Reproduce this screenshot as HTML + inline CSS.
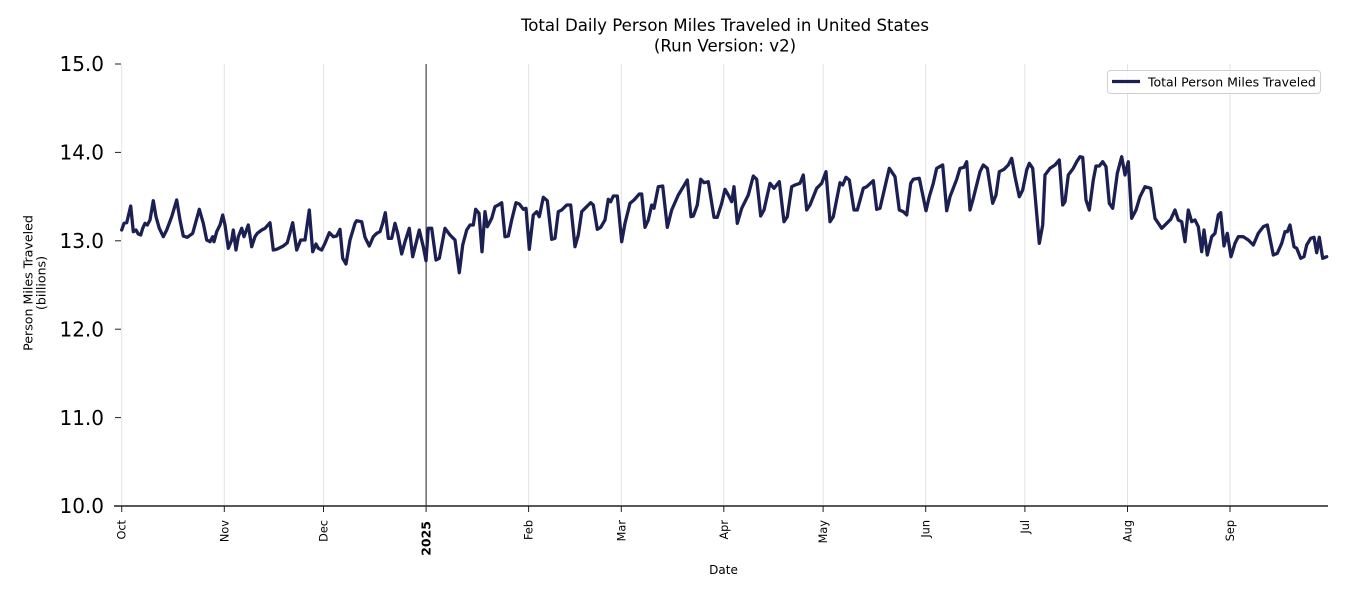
<!DOCTYPE html>
<html>
<head>
<meta charset="utf-8">
<style>
html,body{margin:0;padding:0;background:#fff;}
svg{display:block;}
text{font-family:"DejaVu Sans","Liberation Sans",sans-serif;fill:#000;}
</style>
</head>
<body>
<svg width="1350" height="600" viewBox="0 0 1350 600" xmlns="http://www.w3.org/2000/svg">
<rect width="1350" height="600" fill="#fff"/>
<!-- title -->
<text x="725" y="31" font-size="16.6" text-anchor="middle">Total Daily Person Miles Traveled in United States</text>
<text x="725" y="51.5" font-size="16.6" text-anchor="middle">(Run Version: v2)</text>

<!-- vertical gridlines -->
<g stroke="#e3e3e3" stroke-width="1">
<line x1="121.7" y1="64" x2="121.7" y2="506"/>
<line x1="224.3" y1="64" x2="224.3" y2="506"/>
<line x1="323.5" y1="64" x2="323.5" y2="506"/>
<line x1="528.6" y1="64" x2="528.6" y2="506"/>
<line x1="621.3" y1="64" x2="621.3" y2="506"/>
<line x1="723.8" y1="64" x2="723.8" y2="506"/>
<line x1="823.1" y1="64" x2="823.1" y2="506"/>
<line x1="925.7" y1="64" x2="925.7" y2="506"/>
<line x1="1024.9" y1="64" x2="1024.9" y2="506"/>
<line x1="1127.5" y1="64" x2="1127.5" y2="506"/>
<line x1="1230" y1="64" x2="1230" y2="506"/>
</g>
<!-- year line -->
<line x1="426.1" y1="64" x2="426.1" y2="506" stroke="#222" stroke-width="1"/>

<!-- data -->
<polyline fill="none" stroke="#1c1f52" stroke-width="3.3" stroke-linejoin="round" stroke-linecap="round" points="121.7,230 124,223.3 126.7,222.7 130.7,206 133.3,231.7 136,230 138.3,234 140.7,235 142.7,228.3 145,223.3 147.3,225 150,220 153.3,200.7 156,216.7 159.3,228.3 163.3,236.7 166.7,230 171.7,216.7 176.7,200 180,220 183.3,236 187.3,237.3 192.7,233.3 199.3,209.3 203.3,223.3 206.7,240 210,241.7 212.7,236.7 214,241.7 216.7,231.7 220,225 222.7,215 225,225 228.3,248.3 231.7,240 233.3,230 236,250 238.3,236.7 241.7,228.3 244,236.7 248.3,225 251.7,246.7 255,236.7 257.3,233.3 261.7,230 265,228.3 270,222.7 273.3,250 276.7,249.3 283.3,246 287.3,242.7 292.7,222.7 296.7,250 300.7,240 305,240 309.3,210 312.7,251.7 316,244 318.3,248.3 321.7,250 325,243.3 329.3,232.7 333.3,236.7 336.7,236 340,229.3 342.7,258.3 346,264 350,240 355,223.3 356.7,220.7 361.7,221.7 365,237.3 369.3,246 373.3,236.7 376.7,233.3 380,231.7 382.7,223.3 385.3,212.7 388.3,238.3 391.7,238.3 395,223.3 397.7,233.3 401.7,254 405,241.7 409.3,228.3 412.7,256.7 416,243.3 419.3,230 423.3,246.7 426,260.7 428.3,228.3 431.7,228.3 436,260 439.3,258.3 445,228.3 450,235 455,240 459.3,272.7 462.7,245 466.7,230 470,225 473.3,225 475.7,209.3 479,213.3 482,251.7 485,211.7 487.3,226.7 491.7,218.3 495,206.7 498.3,205 501.7,202.7 505,236.7 508.3,236 511.7,220 516,202.7 519.3,204 523.3,209.3 526,208.3 529.3,249.3 533.3,215 536.7,211.7 539.3,216.7 543.3,197.3 547.3,200.7 551.7,239.3 555,238.3 558.3,211.7 561.7,210 566.7,205 570.7,205 575,246.7 578.3,235 581.7,211.7 585,208.3 590.7,202.7 593.3,205 597.3,229.3 600.7,227.3 605,220 608.3,199.3 610.7,201.7 613.3,196 617.3,196 621.7,241.7 625,223.3 630,203.3 634,200 639.3,194 641.7,194 645,227.3 648.3,220 651.7,205 654,208.3 658.3,186.7 662.7,186 667.3,227.3 671.7,210 678.3,195 683.3,186.7 687.3,180 691,216.7 693.3,216 697.3,205 700.7,179.3 704,182.7 708.3,181.7 714,217.3 717.3,217.3 721.7,203.3 725,189.3 728.3,195 731.7,201.7 734,186.7 737.3,223.3 741.7,208.3 748.3,195 753.3,176 756.7,179.3 760.7,216 764,210 770,183.3 774,188.3 779.3,181.7 784,221.7 787.3,216.7 791.7,186.7 795,185 800,183.3 803.3,175 806.7,210 810,205 816.7,188.3 821.7,183.3 826,171.7 830,221.7 833.3,216.7 840,182.7 842.7,185 846,177.3 849.3,180 854,210 857.3,210 863.3,188.3 866.7,186.7 873.3,180.7 876.7,209.3 880,208.3 885,186.7 889.3,168.3 895,176.7 899.3,210 903.3,211.7 906.7,215 910.7,183.3 913.3,179.3 919.3,178.3 926,210.7 929.3,196.7 933.3,183.3 936.7,168.3 942.7,165 946.7,210.7 950,196.7 956.7,179.3 960,168.3 964,167.3 966.7,161.7 970,210 973.3,198.3 980,171.7 983.3,165 987.3,168.3 992.7,203.3 996,195 999.3,171.7 1004,169.3 1008.3,165 1011.7,158.3 1015,176.7 1019.3,196.7 1022.7,190 1026.7,170 1029.3,163.3 1032.7,168.3 1039.3,243.3 1042.7,225 1045,175 1050,168.3 1055,165 1059.3,160 1062.7,205 1065,201.7 1068.3,175 1073.3,168.3 1076.7,161.7 1080,156.7 1082.7,157.3 1086,200 1089.3,210 1093.3,180 1096,166 1099.3,166 1102.7,161.7 1106,166.7 1109.3,203.3 1112.7,208.3 1117.3,173.3 1121.7,156.7 1125,175 1128.3,161.7 1131.7,218.3 1136,210 1140,196.7 1145,186.7 1150.7,188.3 1155,218.3 1161.7,228.3 1166.7,223.3 1170.7,219.3 1175,210 1178.3,220 1181.7,221.7 1185,241.7 1188.3,210 1191.7,221.7 1195,220 1198.3,226.7 1201.7,251.7 1204,230 1207.3,255 1211.7,236.7 1215,233.3 1218.3,215 1220.7,212.7 1224,246 1227.3,233.3 1231,256.7 1235,243.3 1238.3,236.7 1243.3,236.7 1248.3,240 1253.3,245 1258.3,233.3 1263.3,226.7 1267.3,225 1273.3,255 1277.3,253.3 1281.7,243.3 1285,231.7 1287.3,231.7 1290,225 1294,246.7 1296.7,248.3 1300.7,258.3 1304,256.7 1306.7,245 1310.7,238.3 1314,237.3 1316.7,252.7 1319.3,237.3 1322.7,258.3 1326.7,256.7"/>

<!-- bottom spine -->
<line x1="114" y1="506" x2="1328" y2="506" stroke="#222" stroke-width="1.5"/>

<!-- y ticks -->
<g stroke="#222" stroke-width="1">
<line x1="115" y1="64" x2="121" y2="64"/>
<line x1="115" y1="152.4" x2="121" y2="152.4"/>
<line x1="115" y1="240.8" x2="121" y2="240.8"/>
<line x1="115" y1="329.2" x2="121" y2="329.2"/>
<line x1="115" y1="417.6" x2="121" y2="417.6"/>
<line x1="115" y1="506" x2="121" y2="506"/>
</g>
<g font-size="20" text-anchor="end">
<text x="104" y="71.2">15.0</text>
<text x="104" y="159.6">14.0</text>
<text x="104" y="248">13.0</text>
<text x="104" y="336.4">12.0</text>
<text x="104" y="424.8">11.0</text>
<text x="104" y="513.2">10.0</text>
</g>

<!-- x ticks -->
<g stroke="#222" stroke-width="1">
<line x1="121.7" y1="506" x2="121.7" y2="512"/>
<line x1="224.3" y1="506" x2="224.3" y2="512"/>
<line x1="323.5" y1="506" x2="323.5" y2="512"/>
<line x1="426.1" y1="506" x2="426.1" y2="512"/>
<line x1="528.6" y1="506" x2="528.6" y2="512"/>
<line x1="621.3" y1="506" x2="621.3" y2="512"/>
<line x1="723.8" y1="506" x2="723.8" y2="512"/>
<line x1="823.1" y1="506" x2="823.1" y2="512"/>
<line x1="925.7" y1="506" x2="925.7" y2="512"/>
<line x1="1024.9" y1="506" x2="1024.9" y2="512"/>
<line x1="1127.5" y1="506" x2="1127.5" y2="512"/>
<line x1="1230" y1="506" x2="1230" y2="512"/>
</g>
<g font-size="11.3" text-anchor="end">
<text transform="translate(125.7,520) rotate(-90)">Oct</text>
<text transform="translate(228.3,520) rotate(-90)">Nov</text>
<text transform="translate(327.5,520) rotate(-90)">Dec</text>
<text transform="translate(430.6,521) rotate(-90)" font-weight="bold" font-size="12.5">2025</text>
<text transform="translate(532.6,520) rotate(-90)">Feb</text>
<text transform="translate(625.3,520) rotate(-90)">Mar</text>
<text transform="translate(727.8,520) rotate(-90)">Apr</text>
<text transform="translate(827.1,520) rotate(-90)">May</text>
<text transform="translate(929.7,520) rotate(-90)">Jun</text>
<text transform="translate(1028.9,520) rotate(-90)">Jul</text>
<text transform="translate(1131.5,520) rotate(-90)">Aug</text>
<text transform="translate(1234,520) rotate(-90)">Sep</text>
</g>

<!-- axis labels -->
<text x="723.5" y="574" font-size="12" text-anchor="middle">Date</text>
<g font-size="12.6" text-anchor="middle">
<text transform="translate(32.5,283) rotate(-90)">Person Miles Traveled</text>
<text transform="translate(45.5,283) rotate(-90)">(billions)</text>
</g>

<!-- legend -->
<rect x="1107.5" y="70.5" width="213" height="23" rx="3" ry="3" fill="#fff" fill-opacity="0.8" stroke="#d0d0d0" stroke-width="1"/>
<line x1="1112" y1="81.5" x2="1140" y2="81.5" stroke="#1c1f52" stroke-width="3.3"/>
<text x="1148" y="86.3" font-size="12.5">Total Person Miles Traveled</text>
</svg>
</body>
</html>
